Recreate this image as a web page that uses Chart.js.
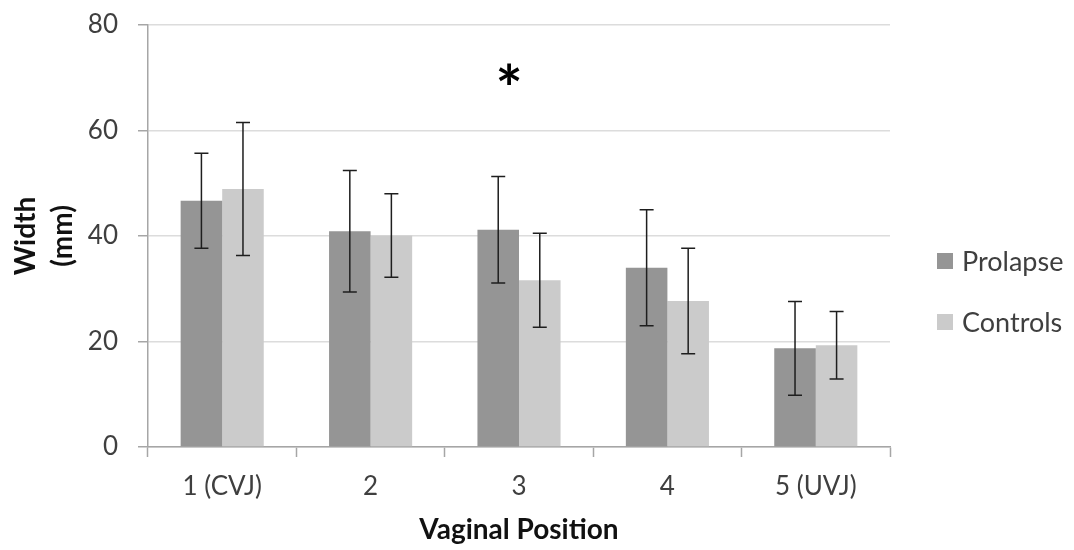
<!DOCTYPE html>
<html>
<head>
<meta charset="utf-8">
<script src="https://cdn.jsdelivr.net/npm/chart.js@4.4.1/dist/chart.umd.min.js"></script>
<style>
  html, body { margin: 0; padding: 0; background: #ffffff; }
  #wrap { width: 1074px; height: 550px; }
</style>
</head>
<body>
<div id="wrap"><canvas id="chart" width="1074" height="550"></canvas></div>
<script>
const positions = ['1 (CVJ)', '2', '3', '4', '5 (UVJ)'];
const prolapse = [46.7, 40.9, 41.2, 34.0, 18.7];
const prolapseSD = [9.0, 11.5, 10.1, 11.0, 8.9];
const controls = [48.9, 40.1, 31.6, 27.7, 19.3];
const controlsSD = [12.6, 7.9, 8.9, 10.0, 6.4];
const yTicks = [0, 20, 40, 60, 80];
// significance marker: category index, value
const marks = [{ index: 2, value: 70.8, text: '*' }];

const FONT = 'Lato, "Open Sans", sans-serif';
const tickColor = '#3f3f3f';
const axisGray = '#a6a6a6';

const errorBars = {
    id: 'errorBars',
    afterDatasetsDraw(chart) {
        const { ctx, scales: { y } } = chart;
        const sds = [prolapseSD, controlsSD];
        ctx.save();
        ctx.strokeStyle = '#1e1e1e';
        ctx.lineWidth = 1.5;
        chart.data.datasets.forEach((ds, di) => {
            chart.getDatasetMeta(di).data.forEach((bar, i) => {
                const top = y.getPixelForValue(ds.data[i] + sds[di][i]);
                const bot = y.getPixelForValue(ds.data[i] - sds[di][i]);
                ctx.beginPath();
                ctx.moveTo(bar.x, top);
                ctx.lineTo(bar.x, bot);
                ctx.moveTo(bar.x - 7, top);
                ctx.lineTo(bar.x + 7, top);
                ctx.moveTo(bar.x - 7, bot);
                ctx.lineTo(bar.x + 7, bot);
                ctx.stroke();
            });
        });
        ctx.restore();
    }
};

const extras = {
    id: 'extras',
    afterDraw(chart) {
        const { ctx, chartArea, scales: { x, y } } = chart;
        ctx.save();
        // star marker, centred on its value
        ctx.font = 'bold 64px ' + FONT;
        ctx.fillStyle = '#000';
        ctx.textAlign = 'center';
        ctx.textBaseline = 'alphabetic';
        marks.forEach(m => {
            const px = x.getPixelForValue(m.index) - 10;
            const py = y.getPixelForValue(m.value);
            const mt = ctx.measureText(m.text);
            ctx.fillText(m.text, px, py + (mt.actualBoundingBoxAscent - mt.actualBoundingBoxDescent) / 2);
        });
        // legend
        ctx.font = '27px ' + FONT;
        ctx.textAlign = 'left';
        ctx.textBaseline = 'middle';
        const midY = (chartArea.top + chartArea.bottom) / 2;
        chart.data.datasets.forEach((ds, i) => {
            const cy = midY + 25 + i * 61;
            const bx = chartArea.right + 47;
            ctx.fillStyle = ds.backgroundColor;
            ctx.fillRect(bx, cy - 8, 16, 16);
            ctx.fillStyle = tickColor;
            ctx.fillText(ds.label, bx + 25, cy + 1);
        });
        ctx.restore();
    }
};

new Chart(document.getElementById('chart'), {
    type: 'bar',
    data: {
        labels: positions,
        datasets: [
            { label: 'Prolapse', data: prolapse, backgroundColor: '#959595' },
            { label: 'Controls', data: controls, backgroundColor: '#cbcbcb' }
        ]
    },
    options: {
        responsive: false,
        animation: false,
        layout: { padding: { top: 25, right: 184, left: 0, bottom: 0 } },
        datasets: { bar: { categoryPercentage: 0.56, barPercentage: 1.0 } },
        plugins: { legend: { display: false }, tooltip: { enabled: false } },
        scales: {
            x: {
                afterFit(scale) { scale.height = 103; scale.paddingLeft = 0; scale.paddingRight = 0; },
                grid: { offset: true, drawOnChartArea: false, tickLength: 10, tickColor: axisGray, tickWidth: 1.5 },
                border: { color: axisGray, width: 1.5 },
                ticks: { color: tickColor, font: { family: FONT, size: 26 }, padding: 14 },
                title: {
                    display: true, text: 'Vaginal Position', color: '#111',
                    font: { family: FONT, size: 28, weight: 'bold' }, padding: { bottom: 3 }
                }
            },
            y: {
                min: 0, max: 80,
                afterFit(scale) { scale.width = 148; scale.paddingTop = 0; scale.paddingBottom = 0; },
                afterBuildTicks(scale) { scale.ticks = yTicks.map(v => ({ value: v })); },
                grid: { color: '#dcdcdc', lineWidth: 1.5, tickLength: 10, tickColor: axisGray, tickWidth: 1.5 },
                border: { color: axisGray, width: 1.5 },
                ticks: { color: tickColor, font: { family: FONT, size: 26 }, padding: 20 },
                title: {
                    display: true, text: ['Width', '(mm)'], color: '#111',
                    font: { family: FONT, size: 28, weight: 'bold', lineHeight: 1.3 }, padding: { top: 8 }
                }
            }
        }
    },
    plugins: [errorBars, extras]
});
</script>
</body>
</html>
